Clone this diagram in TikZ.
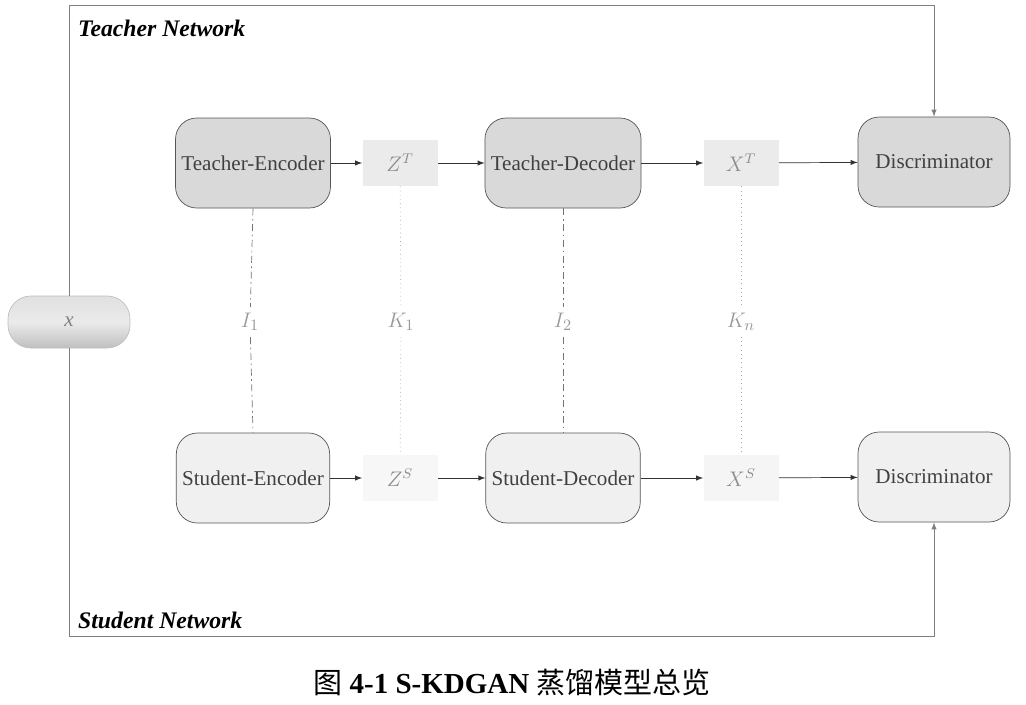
\documentclass[tikz,border=0pt]{standalone}
\usepackage{fontspec}
\setmainfont{Liberation Serif}
\newfontfamily\cjk{Noto Sans CJK SC}
\usepackage{tikz}
\usetikzlibrary{shapes,arrows,positioning}
\definecolor{tfill}{HTML}{D9D9D9}
\definecolor{sfill}{HTML}{F0F0F0}
\definecolor{edge}{HTML}{555555}
\tikzstyle{tnode} = [rectangle, rounded corners=12pt, draw=edge, fill=tfill, minimum width=3.04cm, minimum height=1.8cm, font=\fontsize{12}{14}\selectfont, text=black!75]
\tikzstyle{snode} = [tnode, fill=sfill]
\tikzstyle{znode} = [rectangle, fill=black!8, minimum width=1.5cm, minimum height=0.92cm, font=\fontsize{12}{14}\selectfont, text=black!45]
\tikzstyle{kd} = [font=\fontsize{13}{15}\selectfont, text=black!40]
\tikzstyle{arrow} = [draw, -latex, thin, black!80]
\tikzstyle{frame} = [draw, black!50, thin]
\tikzstyle{dashdot} = [draw, black!55, dash pattern=on 4pt off 2pt on 1pt off 2pt]
\tikzstyle{dots} = [draw, black!35, dotted]
\tikzstyle{title} = [font=\fontsize{13.5}{16}\selectfont\bfseries\itshape, anchor=west]

\begin{document}
\begin{tikzpicture}[x=0.02cm, y=-0.02cm]
			\useasboundingbox (0,0) rectangle (1026,704);
			% input
			\node [rectangle, rounded corners=13pt, draw=black!25, top color=black!12, bottom color=black!25, middle color=black!8, minimum width=2.44cm, minimum height=1.04cm, font=\fontsize{12}{14}\selectfont\itshape, text=black!50] (x) at (69,322) {x};
			
			% teacher row
			\node [tnode] (te) at (253,163) {Teacher-Encoder};
			\node [znode] (zt) at (400,163) {$Z^T$};
			\node [tnode] (td) at (563,163) {Teacher-Decoder};
			\node [znode] (xt) at (741,163) {$X^T$};
			\node [tnode] (dt) at (934,162) {Discriminator};
			
			% student row
			\node [snode] (se) at (253,478) {Student-Encoder};
			\node [znode, fill=black!3] (zs) at (400,478) {$Z^S$};
			\node [snode] (sd) at (563,478) {Student-Decoder};
			\node [znode, fill=black!4] (xs) at (741,478) {$X^S$};
			\node [snode] (ds) at (934,477) {Discriminator};
			
			% distillation terms
			\node [kd] (i1) at (250,322) {$I_1$};
			\node [kd] (k1) at (401,322) {$K_1$};
			\node [kd] (i2) at (563,322) {$I_2$};
			\node [kd] (kn) at (741,322) {$K_n$};
			
			\node [title] (tn) at (72,28) {Teacher Network};
			\node [title] (sn) at (72,620) {Student Network};
			\node [font=\fontsize{16.5}{19}\selectfont] (cap) at (512,683) {{\cjk 图} \textbf{4-1 S-KDGAN} {\cjk 蒸馏模型总览}};
			
			\coordinate (tl) at (69,5);
			\coordinate (bl) at (69,636);
			
			\path [arrow] (te) -- (zt);
			\path [arrow] (zt) -- (td);
			\path [arrow] (td) -- (xt);
			\path [arrow] (xt) -- (dt);
			\path [arrow] (se) -- (zs);
			\path [arrow] (zs) -- (sd);
			\path [arrow] (sd) -- (xs);
			\path [arrow] (xs) -- (ds);
			
			\path [frame, -latex] (x.north) -- (tl) -| (dt.north);
			\path [frame, -latex] (x.south) -- (bl) -| (ds.south);
			
			\path [dashdot] (te.south) -- (i1);
			\path [dashdot] (i1) -- (se.north);
			\path [dashdot] (td.south) -- (i2);
			\path [dashdot] (i2) -- (sd.north);
			\path [dots] (zt) -- (k1);
			\path [dots] (k1) -- (zs);
			\path [dots] (xt) -- (kn);
			\path [dots] (kn) -- (xs);
		\end{tikzpicture}
\end{document}
